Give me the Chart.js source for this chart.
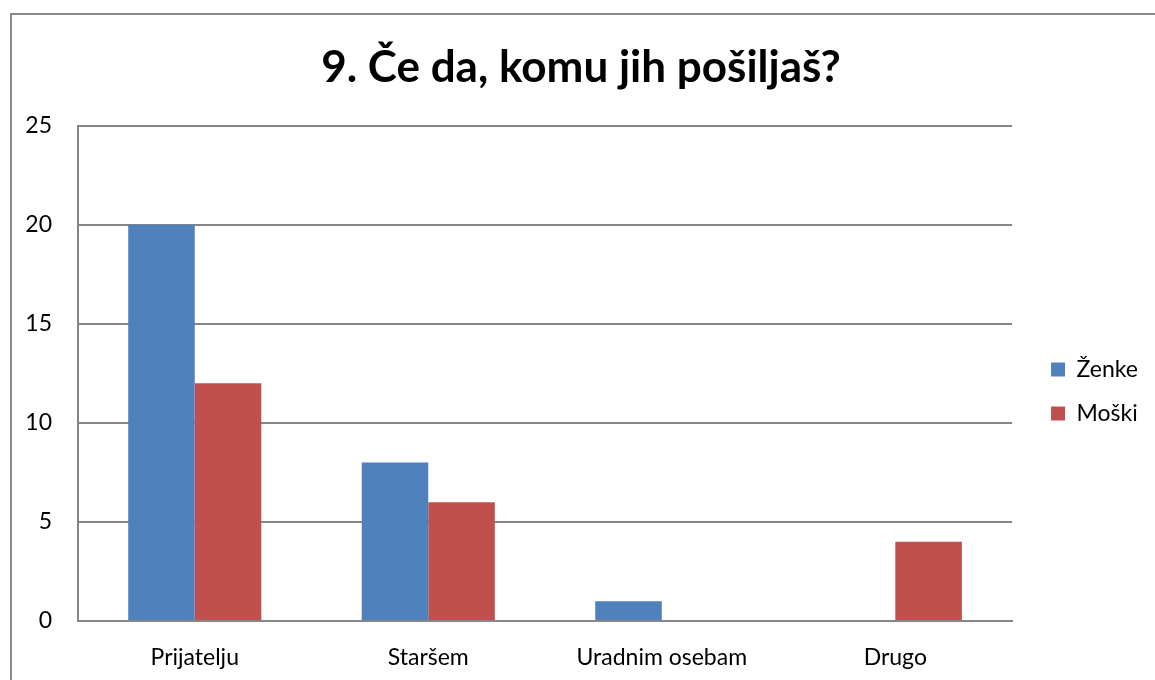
<!DOCTYPE html>
<html>
<head>
<meta charset="utf-8">
<script src="https://cdn.jsdelivr.net/npm/chart.js@4"></script>
<style>
  html, body { margin: 0; padding: 0; background: #fff; overflow: hidden; }
  #frame { position: absolute; left: 10px; top: 13px; width: 1200px; height: 720px; border: 2px solid #888; }
  #wrap { position: absolute; left: 0; top: 0; width: 1155px; height: 680px; }
</style>
</head>
<body>
<div id="frame"></div>
<div id="wrap"><canvas id="chart"></canvas></div>
<script>
const categories = ['Prijatelju', 'Staršem', 'Uradnim osebam', 'Drugo'];
const zenke = [20, 8, 1, 0];
const moski = [12, 6, 0, 4];
const yTicks = [0, 5, 10, 15, 20, 25];

// widen the legend box and nudge its items right, away from the plot
const legendShift = {
  id: 'legendShift',
  afterInit(chart) {
    const lg = chart.legend;
    const fit = lg.fit.bind(lg);
    lg.fit = function() { fit(); this.width += 12; };
  },
  afterLayout(chart) {
    chart.legend.left += 18;
    chart.legend.right += 18;
  }
};

document.addEventListener('DOMContentLoaded', function() {
  const ctx = document.getElementById('chart').getContext('2d');
  new Chart(ctx, {
    type: 'bar',
    data: {
      labels: categories,
      datasets: [{
        label: 'Ženke',
        data: zenke,
        backgroundColor: '#4F81BD'
      }, {
        label: 'Moški',
        data: moski,
        backgroundColor: '#C0504D'
      }]
    },
    plugins: [legendShift],
    options: {
      responsive: true,
      maintainAspectRatio: false,
      animation: false,
      datasets: { bar: { categoryPercentage: 0.57, barPercentage: 1 } },
      layout: { padding: { left: 20, right: 13, top: 41, bottom: 0 } },
      scales: {
        y: {
          min: 0,
          max: 25,
          afterBuildTicks: axis => { axis.ticks = yTicks.map(v => ({ value: v })); },
          afterFit: axis => { axis.width = 58; },
          grid: { color: '#868686', lineWidth: 2, drawTicks: false },
          border: { color: '#868686', width: 2 },
          ticks: { color: '#000', padding: 26, font: { family: 'Lato', size: 23 } }
        },
        x: {
          afterFit: axis => { axis.height = 59; },
          grid: { display: false },
          border: { color: '#868686', width: 2 },
          ticks: { color: '#000', padding: 15, font: { family: 'Lato', size: 23 } }
        }
      },
      plugins: {
        title: {
          display: true,
          text: '9. Če da, komu jih pošiljaš?',
          color: '#000',
          font: { family: 'Lato', size: 44, weight: 'bold' },
          padding: { top: 0, bottom: 32 }
        },
        legend: {
          position: 'right',
          align: 'center',
          title: { display: true, text: ' ', padding: 19, font: { size: 20 } },
          labels: {
            color: '#000',
            boxWidth: 14,
            boxHeight: 14,
            padding: 21,
            font: { family: 'Lato', size: 23 }
          }
        },
        tooltip: { enabled: false }
      }
    }
  });
});
</script>
</body>
</html>
